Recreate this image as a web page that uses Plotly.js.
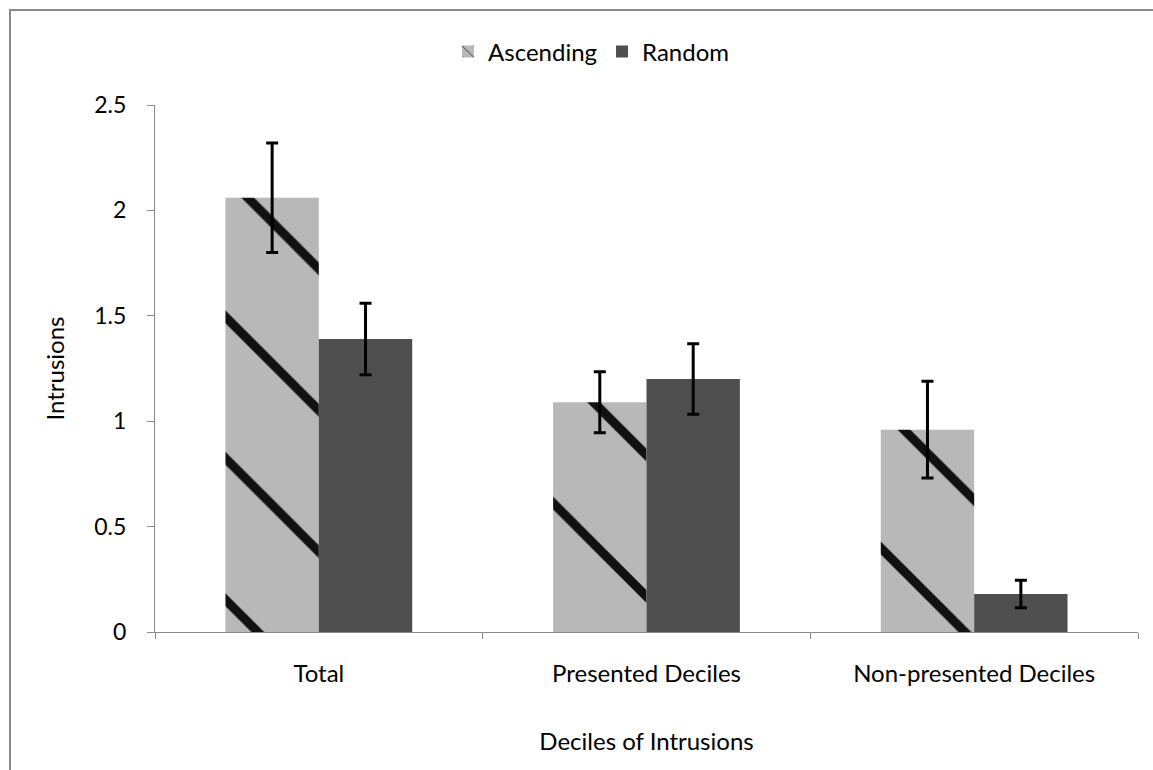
<!DOCTYPE html>
<html>
<head>
<meta charset="utf-8">
<script src="https://cdn.plot.ly/plotly-3.0.1.min.js"></script>
<style>
  html, body { margin: 0; padding: 0; background: #fff; }
  #chart { width: 1153px; height: 770px; }
</style>
</head>
<body>
<div id="chart"></div>
<script>
const categories = ["Total", "Presented Deciles", "Non-presented Deciles"];
const seriesNames = ["Ascending", "Random"];
const ascendingValues = [2.06, 1.09, 0.96];
const ascendingErrors = [0.26, 0.145, 0.23];
const randomValues = [1.39, 1.20, 0.18];
const randomErrors = [0.17, 0.167, 0.065];
const yTickVals = [0, 0.5, 1, 1.5, 2, 2.5];
const yTickText = ["0", "0.5", "1", "1.5", "2", "2.5"];

const FONT = "Lato, 'Open Sans', sans-serif";
const TXT = 24;

const traces = [
  {
    type: "bar",
    name: seriesNames[0],
    x: categories,
    y: ascendingValues,
    marker: {
      color: "#b5b5b5",
      line: { width: 0 },
      pattern: { shape: "\\", fgcolor: "#111", bgcolor: "#b8b8b8", size: 100, solidity: 0.09 }
    },
    error_y: { type: "data", array: ascendingErrors, visible: true, color: "#000", thickness: 3, width: 6 }
  },
  {
    type: "bar",
    name: seriesNames[1],
    x: categories,
    y: randomValues,
    marker: { color: "#4f4f4f", line: { width: 0 } },
    error_y: { type: "data", array: randomErrors, visible: true, color: "#000", thickness: 3, width: 6 }
  }
];

const L = 155, R = 15, T = 105, B = 138;
const W = 1153, H = 770;
const pw = W - L - R, ph = H - T - B;
function px2x(p) { return (p - L) / pw; }
function py2y(p) { return (H - B - p) / ph; }

const layout = {
  width: W,
  height: H,
  margin: { l: L, r: R, t: T, b: B },
  paper_bgcolor: "#fff",
  plot_bgcolor: "#fff",
  font: { family: FONT, size: TXT, color: "#000" },
  barmode: "group",
  bargap: 0.43,
  bargroupgap: 0,
  showlegend: true,
  legend: {
    orientation: "h",
    x: px2x(591), xanchor: "center",
    y: py2y(52), yanchor: "middle",
    font: { family: FONT, size: TXT, color: "#000" },
    itemwidth: 30,
    traceorder: "normal"
  },
  xaxis: {
    type: "category",
    showline: true, linecolor: "#8a8a8a", linewidth: 1,
    ticks: "outside", tickson: "boundaries", ticklen: 6, tickcolor: "#8a8a8a",
    ticklabelstandoff: 20,
    showgrid: false, zeroline: false,
    tickfont: { family: FONT, size: TXT, color: "#000" },
    title: { text: "Deciles of Intrusions", standoff: 47, font: { family: FONT, size: TXT, color: "#000" } },
    automargin: false
  },
  yaxis: {
    range: [0, 2.5],
    tickvals: yTickVals, ticktext: yTickText,
    showline: true, linecolor: "#8a8a8a", linewidth: 1,
    ticks: "outside", ticklen: 7, tickcolor: "#8a8a8a",
    ticklabelstandoff: 16,
    showgrid: false, zeroline: false,
    tickfont: { family: FONT, size: 23, color: "#000" },
    title: { text: "Intrusions", standoff: 22, font: { family: FONT, size: TXT, color: "#000" } },
    automargin: false
  },
  shapes: [
    {
      type: "rect", xref: "paper", yref: "paper",
      x0: px2x(10), x1: px2x(1160), y0: py2y(780), y1: py2y(10),
      line: { color: "#8a8a8a", width: 2 }, fillcolor: "rgba(0,0,0,0)", layer: "below"
    }
  ]
};

Plotly.newPlot("chart", traces, layout, { displayModeBar: false, staticPlot: true });
</script>
</body>
</html>
